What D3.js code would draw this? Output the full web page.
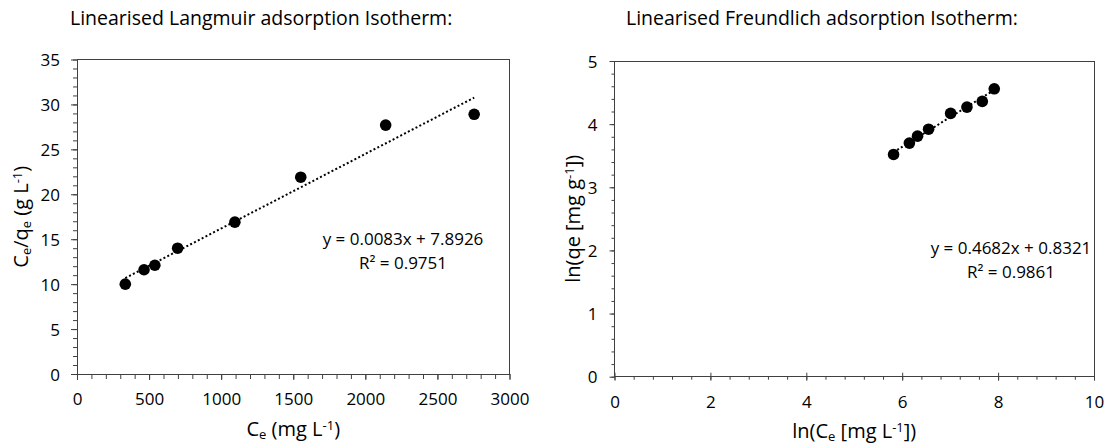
<!DOCTYPE html>
<html>
<head>
<meta charset="utf-8">
<script src="https://cdn.jsdelivr.net/npm/d3@7"></script>
<style>
  body { margin: 0; background: #fff; }
  svg { font-family: "Open Sans", sans-serif; }
</style>
</head>
<body>
<div id="chart"></div>
<script>
/* DATA */
// Langmuir: Ce (mg/L) vs Ce/qe (g/L)
const langCe = [335, 465, 540, 698, 1095, 1552, 2141, 2755];
const langCeQe = [10.0, 11.6, 12.1, 14.0, 16.9, 21.9, 27.7, 28.9];
const langSlope = 0.0083;
const langIntercept = 7.8926;
const langEq = "y = 0.0083x + 7.8926";
const langR2 = "R² = 0.9751";
const langXTicks = [0, 500, 1000, 1500, 2000, 2500, 3000];
const langYTicks = [0, 5, 10, 15, 20, 25, 30, 35];

// Freundlich: ln(Ce) vs ln(qe)
const freLnCe = [5.82, 6.15, 6.32, 6.55, 7.01, 7.35, 7.67, 7.92];
const freLnQe = [3.52, 3.70, 3.81, 3.92, 4.17, 4.27, 4.36, 4.56];
const freSlope = 0.4682;
const freIntercept = 0.8321;
const freEq = "y = 0.4682x + 0.8321";
const freR2 = "R² = 0.9861";
const freXTicks = [0, 2, 4, 6, 8, 10];
const freYTicks = [0, 1, 2, 3, 4, 5];

const width = 1105, height = 445;
const axisColor = "#404040";
const fmt = d3.format("d");

const svg = d3.select("#chart")
    .append("svg")
    .attr("width", width)
    .attr("height", height)

// helper for text with sub/superscripts: parts = [[text, "sub"|"sup"|null], ...]
function richText(sel, parts, size) {
    parts.forEach(([t, kind]) => {
        const ts = sel.append("tspan").text(t)
        if (kind === "sub") {
            ts.attr("font-size", size * 0.65).attr("baseline-shift", "-22%")
        } else if (kind === "sup") {
            ts.attr("font-size", size * 0.65).attr("baseline-shift", "45%")
        }
    })
}

function drawPanel(cfg) {
    const x = d3.scaleLinear().domain(cfg.xDomain).range(cfg.xRange)
    const y = d3.scaleLinear().domain(cfg.yDomain).range(cfg.yRange)
    const g = svg.append("g")

    // minor ticks
    g.append("g")
        .attr("transform", `translate(0, ${cfg.yRange[0]})`)
        .call(d3.axisBottom(x).tickValues(cfg.xMinor).tickSize(cfg.minorX).tickFormat("").tickSizeOuter(0))
        .call(a => a.select(".domain").remove())
        .selectAll("line").attr("stroke", axisColor)
    g.append("g")
        .attr("transform", `translate(${cfg.xRange[0]}, 0)`)
        .call(d3.axisLeft(y).tickValues(cfg.yMinor).tickSize(cfg.minorY).tickFormat("").tickSizeOuter(0))
        .call(a => a.select(".domain").remove())
        .selectAll("line").attr("stroke", axisColor)

    // major x axis
    const xAx = g.append("g")
        .attr("transform", `translate(0, ${cfg.yRange[0]})`)
        .call(d3.axisBottom(x).tickValues(cfg.xTicks).tickFormat(fmt).tickSize(cfg.majorX).tickSizeOuter(0))
    xAx.select(".domain").remove()
    xAx.selectAll("line").attr("stroke", axisColor)
    if (cfg.crossX) xAx.selectAll("line").attr("y1", -cfg.majorX)
    xAx.selectAll("text")
        .attr("y", cfg.xLabelY)
        .attr("dy", 0)
        .attr("font-size", 17)
        .attr("fill", "#000")
        .attr("font-family", "Open Sans")

    // major y axis
    const yAx = g.append("g")
        .attr("transform", `translate(${cfg.xRange[0]}, 0)`)
        .call(d3.axisLeft(y).tickValues(cfg.yTicks).tickFormat(fmt).tickSize(cfg.majorY).tickSizeOuter(0))
    yAx.select(".domain").remove()
    yAx.selectAll("line").attr("stroke", axisColor)
    yAx.selectAll("text")
        .attr("x", -cfg.yLabelGap)
        .attr("dy", "0.36em")
        .attr("font-size", 17)
        .attr("fill", "#000")
        .attr("font-family", "Open Sans")

    // plot box
    g.append("rect")
        .attr("x", cfg.xRange[0])
        .attr("y", cfg.yRange[1])
        .attr("width", cfg.xRange[1] - cfg.xRange[0])
        .attr("height", cfg.yRange[0] - cfg.yRange[1])
        .attr("fill", "none")
        .attr("stroke", axisColor)
        .attr("stroke-width", 1)
        .attr("shape-rendering", "crispEdges")

    // trendline
    const ext = d3.extent(cfg.xs)
    g.append("path")
        .datum(ext.map(v => [v, cfg.slope * v + cfg.intercept]))
        .attr("d", d3.line().x(d => x(d[0])).y(d => y(d[1])))
        .attr("stroke", "#000")
        .attr("stroke-width", 2)
        .attr("stroke-dasharray", "2,2.3")
        .attr("fill", "none")

    // points
    g.selectAll("circle.pt")
        .data(cfg.xs.map((v, i) => [v, cfg.ys[i]]))
        .join("circle")
        .attr("class", "pt")
        .attr("cx", d => x(d[0]))
        .attr("cy", d => y(d[1]))
        .attr("r", 5.8)
        .attr("fill", "#000")

    // equation labels
    g.append("text")
        .attr("x", cfg.eqX).attr("y", cfg.eqY)
        .attr("text-anchor", "middle").attr("font-size", 17)
        .text(cfg.eq)
    g.append("text")
        .attr("x", cfg.eqX).attr("y", cfg.eqY + 24)
        .attr("text-anchor", "middle").attr("font-size", 17)
        .text(cfg.r2)

    // chart title
    g.append("text")
        .attr("x", cfg.titleX).attr("y", 25)
        .attr("font-size", 19.5)
        .text(cfg.title)

    // axis titles
    const cx = (cfg.xRange[0] + cfg.xRange[1]) / 2
    const cy = (cfg.yRange[0] + cfg.yRange[1]) / 2
    richText(g.append("text")
        .attr("x", cx).attr("y", cfg.xTitleY)
        .attr("text-anchor", "middle").attr("font-size", 20), cfg.xTitle, 20)
    richText(g.append("text")
        .attr("transform", `translate(${cfg.yTitleX}, ${cy})rotate(-90)`)
        .attr("text-anchor", "middle").attr("font-size", 20), cfg.yTitle, 20)
}

drawPanel({
    xDomain: [0, 3000], yDomain: [0, 35],
    xRange: [77, 509.5], yRange: [374, 59.5],
    xTicks: langXTicks, yTicks: langYTicks,
    xMinor: d3.range(0, 3001, 100), yMinor: d3.range(0, 35.01, 1),
    majorX: 6, minorX: 5, majorY: 6, minorY: 4, crossX: false,
    xLabelY: 31, yLabelGap: 17,
    xs: langCe, ys: langCeQe, slope: langSlope, intercept: langIntercept,
    eq: langEq, r2: langR2, eqX: 403, eqY: 245,
    title: "Linearised Langmuir adsorption Isotherm:", titleX: 70,
    xTitle: [["C", null], ["e", "sub"], [" (mg L", null], ["-1", "sup"], [")", null]], xTitleY: 436,
    yTitle: [["C", null], ["e", "sub"], ["/q", null], ["e", "sub"], [" (g L", null], ["-1", "sup"], [")", null]], yTitleX: 28
})

drawPanel({
    xDomain: [0, 10], yDomain: [0, 5],
    xRange: [614.5, 1094], yRange: [376.7, 61],
    xTicks: freXTicks, yTicks: freYTicks,
    xMinor: d3.range(0, 10.01, 0.4), yMinor: d3.range(0, 5.01, 0.2),
    majorX: 4, minorX: 3, majorY: 5, minorY: 3, crossX: true,
    xLabelY: 31, yLabelGap: 17,
    xs: freLnCe, ys: freLnQe, slope: freSlope, intercept: freIntercept,
    eq: freEq, r2: freR2, eqX: 1011, eqY: 254,
    title: "Linearised Freundlich adsorption Isotherm:", titleX: 626,
    xTitle: [["ln(C", null], ["e", "sub"], [" [mg L", null], ["-1", "sup"], ["])", null]], xTitleY: 438,
    yTitle: [["ln(qe [mg g", null], ["-1", "sup"], ["])", null]], yTitleX: 580
})
</script>
</body>
</html>
